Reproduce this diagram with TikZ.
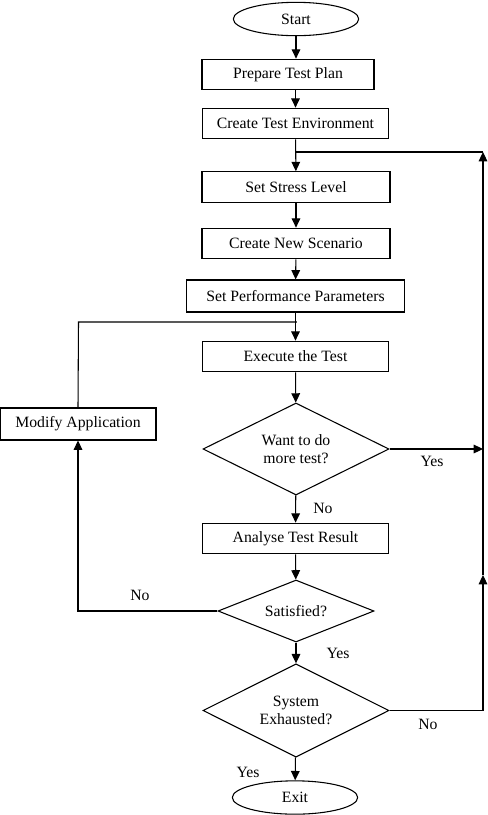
\documentclass[tikz,border=0pt]{standalone}
\usepackage{fontspec}
\setmainfont{Liberation Serif}
\usetikzlibrary{arrows.meta,shapes.geometric,positioning}

\tikzset{
	stepbox/.style={draw, rectangle, minimum height=23pt, inner sep=2pt},
	terminal/.style={draw, ellipse, minimum width=94pt, minimum height=25pt, inner sep=0pt},
	decision/.style={draw, diamond, aspect=2, inner sep=0pt, align=center},
	flow/.style={-{Triangle[length=7pt,width=6.5pt]}},
	answer/.style={inner sep=0pt}
}

\begin{document}
\begin{tikzpicture}[x=0.75pt, y=-0.75pt, line width=0.8pt, font=\fontsize{11.8}{13.5}\selectfont]
	\useasboundingbox (0,0) rectangle (488,815);
	% main column
	\node[terminal] (start) at (296,19) {Start};
	\node[stepbox, minimum width=129pt] (plan) at (288,74.5) {Prepare Test Plan};
	\node[stepbox, minimum width=140pt] (env) at (295.5,123.5) {Create Test Environment};
	\node[stepbox, minimum width=141pt] (stress) at (296,187) {Set Stress Level};
	\node[stepbox, minimum width=141pt] (scenario) at (296,243.5) {Create New Scenario};
	\node[stepbox, minimum width=163pt, minimum height=24pt] (perf) at (295.5,296) {Set Performance Parameters};
	\node[stepbox, minimum width=140pt] (exec) at (295.5,356.5) {Execute the Test};
	\node[decision, minimum width=139.5pt, minimum height=69pt] (more) at (296,449) {Want to do\\more test?};
	\node[stepbox, minimum width=117pt, minimum height=24pt] (modify) at (78,424) {Modify Application};
	\node[stepbox, minimum width=140pt] (analyse) at (295.5,538.5) {Analyse Test Result};
	\node[decision, minimum width=117pt, minimum height=46.5pt] (satisfied) at (296,611) {Satisfied?};
	\node[decision, minimum width=139.5pt, minimum height=70pt] (exhausted) at (296,710.5) {System\\Exhausted?};
	\node[terminal] (exit) at (295,797.5) {Exit};

	% loop corners
	\coordinate (rtop) at (483,152);
	\coordinate (rmid) at (483,575);
	\coordinate (ltop) at (78.5,322);

	\draw[flow] (start) -- (start.south |- plan.north);
	\draw[flow] (plan.south -| env.north) -- (env.north);
	\draw[flow] (env) -- (stress);
	\draw[flow] (stress) -- (scenario);
	\draw[flow] (scenario) -- (perf);
	\draw[flow] (perf) -- (exec);
	\draw[flow] (exec) -- (more);
	\draw[flow] (more) -- (analyse);
	\draw[flow] (analyse) -- (satisfied);
	\draw[flow] (satisfied) -- (exhausted);
	\draw[flow] (exhausted) -- (exit);

	% back to stress level
	\draw[flow] (more.east) -- (more.east -| rtop);
	\draw[flow] (exhausted.east) -- (exhausted.east -| rmid) -- (rmid);
	\draw[flow] (rmid) -- (rtop);
	\draw (rtop) -- (env.south |- rtop);

	% back to execution
	\draw[flow] (satisfied.west) -- (satisfied.west -| modify.south) -- (modify.south);
	\draw (modify.north) -- (ltop) -- ([xshift=1pt]perf.south |- ltop);

	\node[answer] (moreyes) at (432,461) {Yes};
	\node[answer] (moreno) at (323,508) {No};
	\node[answer] (satno) at (140,595) {No};
	\node[answer] (satyes) at (338,653) {Yes};
	\node[answer] (exhno) at (428,724) {No};
	\node[answer] (exhyes) at (248,772) {Yes};
\end{tikzpicture}
\end{document}
